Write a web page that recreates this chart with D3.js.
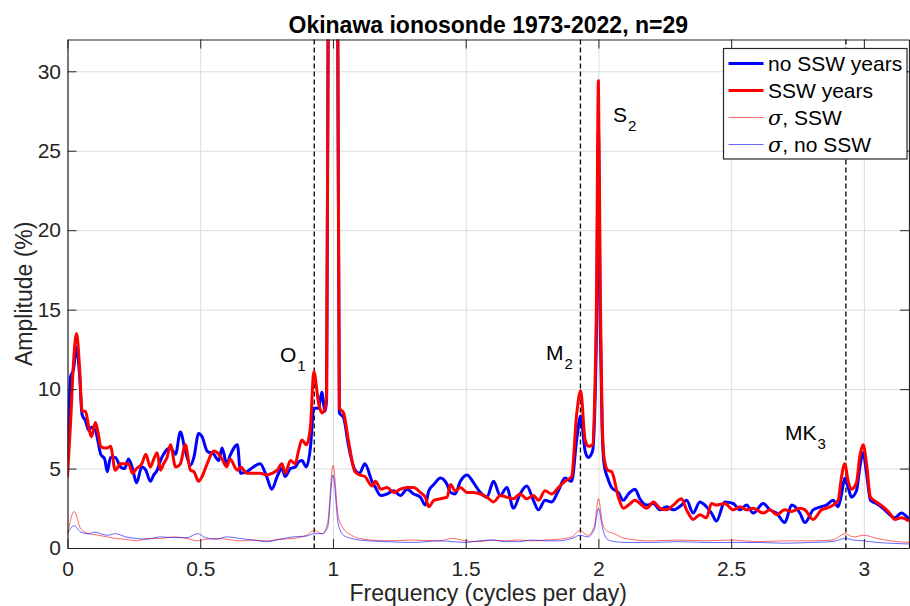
<!DOCTYPE html>
<meta charset="utf-8">
<style>
body { margin: 0; background: #fff; }
svg text { font-family: "Liberation Sans", Arial, Helvetica, sans-serif; fill: #262626; }
</style>
<script src="https://d3js.org/d3.v7.min.js"></script>
<div id="chart"></div>
<script>

// frequency grid (cycles per day) for the mean amplitude spectra
var freq = [0.000,0.012,0.022,0.034,0.045,0.055,0.068,0.080,0.090,0.105,0.115,0.125,0.140,0.150,0.162,0.180,0.200,0.215,0.230,0.245,
  0.260,0.280,0.295,0.312,0.325,0.338,0.350,0.362,0.375,0.388,0.407,0.425,0.444,0.463,0.476,0.494,0.507,0.526,0.551,0.570,
  0.582,0.600,0.612,0.640,0.652,0.676,0.700,0.726,0.750,0.770,0.790,0.808,0.820,0.840,0.858,0.870,0.883,0.900,0.915,0.928,
  0.946,0.958,0.970,0.976,0.983,1.000,1.017,1.024,1.040,1.058,1.083,1.100,1.120,1.147,1.160,1.180,1.204,1.229,1.254,1.279,
  1.304,1.329,1.348,1.361,1.380,1.405,1.430,1.443,1.460,1.480,1.505,1.530,1.555,1.580,1.605,1.630,1.655,1.680,1.705,1.730,
  1.755,1.774,1.799,1.824,1.849,1.874,1.899,1.918,1.933,1.950,1.962,1.978,1.986,1.993,2.000,2.007,2.014,2.022,2.035,2.050,
  2.075,2.094,2.113,2.138,2.156,2.182,2.207,2.232,2.257,2.282,2.313,2.332,2.357,2.382,2.407,2.426,2.445,2.476,2.508,2.533,
  2.558,2.583,2.621,2.646,2.671,2.702,2.728,2.759,2.778,2.809,2.840,2.859,2.884,2.903,2.916,2.928,2.941,2.953,2.972,2.985,
  2.997,3.010,3.025,3.047,3.072,3.097,3.116,3.141,3.170];

var ampNoSSW = [5.7,10.8,11.2,12.6,11.0,8.4,8.0,7.4,7.6,7.4,6.7,5.9,5.6,4.8,5.7,5.7,5.1,5.0,5.6,5.0,
  4.1,5.1,4.9,4.2,4.6,4.9,5.5,5.9,6.2,6.3,5.9,7.3,6.1,5.2,5.7,7.2,7.0,6.1,5.9,5.5,
  6.3,5.3,5.8,6.5,4.7,4.8,5.1,5.3,4.5,3.7,4.5,5.0,4.5,5.0,5.1,5.4,5.5,5.1,6.3,8.8,
  8.8,9.8,8.6,9.3,38,90,38,8.5,8.2,6.5,4.9,4.7,5.3,4.2,3.8,3.3,3.4,3.6,3.3,3.7,
  3.4,3.2,2.7,3.6,4.0,4.4,4.0,3.5,3.4,4.2,4.6,4.1,3.5,3.2,4.2,3.3,3.8,2.5,3.4,3.9,
  3.0,2.4,3.0,2.9,3.6,4.4,4.2,6.8,8.3,6.1,5.7,6.1,8.5,14.0,26.2,14.0,7.5,5.2,4.4,3.8,
  3.5,3.0,3.4,3.7,3.1,2.7,2.8,2.4,2.6,2.4,2.7,3.0,2.2,2.9,2.6,2.2,1.7,2.9,2.8,2.4,
  2.7,2.2,2.8,2.4,2.2,1.6,2.7,2.2,1.6,2.4,2.6,2.7,3.0,2.6,3.4,4.4,3.8,3.2,3.6,5.1,
  6.0,4.7,3.0,2.8,2.5,2.1,1.9,2.2,1.8];

var ampSSW = [4.45,8.0,11.5,13.5,11.5,8.6,8.6,7.6,7.0,7.9,7.3,6.4,6.3,6.3,6.4,4.9,5.3,5.3,5.3,4.7,
  5.0,5.3,5.9,5.1,5.6,6.0,4.9,5.3,5.7,6.5,5.1,5.3,6.5,4.9,4.8,4.2,4.5,5.3,6.1,5.9,
  5.6,5.1,5.6,4.9,5.1,4.7,4.7,4.7,4.6,4.7,4.9,5.3,4.7,5.5,5.3,6.1,6.8,6.5,7.6,11.1,
  9.1,8.5,8.8,9.6,40,95,40,8.8,8.5,6.8,4.8,4.6,4.5,3.9,4.2,3.7,3.8,3.5,3.7,3.8,
  3.8,3.5,3.2,2.6,3.0,3.1,3.2,4.0,3.6,3.8,3.5,3.5,3.4,3.2,2.9,3.3,3.2,3.1,3.4,3.1,
  3.3,3.0,3.6,3.4,3.8,4.2,4.5,8.4,9.9,6.8,6.4,6.5,9.5,16.0,29.4,16.0,8.0,5.6,4.9,4.8,
  3.2,2.5,2.7,3.0,2.8,2.5,2.9,2.5,2.4,2.7,3.1,2.4,1.8,2.1,1.9,2.8,2.7,2.8,2.4,2.6,
  2.4,2.5,2.2,2.4,2.1,2.4,2.3,2.5,2.4,1.8,2.4,2.5,2.7,3.0,4.5,5.3,4.2,3.7,4.1,5.8,
  6.5,5.3,3.2,2.9,2.6,2.2,1.8,1.9,1.7];

// frequency grid for the standard deviation curves
var sigFreq = [0.00,0.025,0.05,0.08,0.10,0.15,0.18,0.22,0.26,0.30,0.35,0.40,0.45,0.49,0.52,0.56,0.60,0.65,0.70,0.75,
  0.80,0.85,0.90,0.93,0.96,0.98,1.00,1.02,1.04,1.07,1.10,1.20,1.30,1.40,1.45,1.50,1.55,1.60,1.65,1.70,
  1.75,1.80,1.85,1.90,1.93,1.96,1.985,2.00,2.015,2.03,2.06,2.10,2.20,2.30,2.40,2.50,2.60,2.70,2.80,2.88,
  2.93,2.96,3.00,3.05,3.10,3.17];

var sigSSW = [0.8,2.3,1.2,0.9,0.85,0.7,0.6,0.55,0.45,0.6,0.6,0.7,0.6,0.45,0.55,0.6,0.55,0.45,0.5,0.45,
  0.55,0.6,0.8,1.1,0.9,1.6,5.2,2.0,1.2,0.8,0.6,0.45,0.5,0.45,0.6,0.45,0.4,0.5,0.45,0.5,
  0.45,0.5,0.55,0.7,1.1,0.8,1.4,3.1,1.6,1.1,0.9,0.6,0.45,0.5,0.45,0.5,0.4,0.45,0.45,0.5,
  0.9,0.7,0.8,0.6,0.45,0.35];

var sigNoSSW = [0.9,1.4,1.0,0.9,1.0,0.8,0.9,0.7,0.6,0.55,0.7,0.65,0.65,0.9,0.65,0.55,0.7,0.6,0.5,0.4,
  0.55,0.7,0.75,0.9,0.9,1.3,4.6,1.5,0.8,0.6,0.5,0.4,0.35,0.45,0.4,0.35,0.45,0.5,0.4,0.4,
  0.5,0.45,0.45,0.6,0.8,0.7,1.2,2.5,1.3,0.6,0.4,0.35,0.35,0.4,0.35,0.35,0.35,0.3,0.35,0.4,
  0.6,0.5,0.45,0.35,0.3,0.25];

var xTicks = [0, 0.5, 1, 1.5, 2, 2.5, 3];
var yTicks = [0, 5, 10, 15, 20, 25, 30];

// tidal constituents marked with dashed lines
var tideNames = ["O", "M", "MK"];
var tideSubs = ["1", "2", "3"];
var tideFreq = [0.9295, 1.9323, 2.9323];

var margin = {top: 39.5, right: 1, bottom: 58, left: 67.5},
    width = 910 - margin.left - margin.right,
    height = 606 - margin.top - margin.bottom;

var svg = d3.select("#chart")
  .append("svg")
    .attr("width", 910)
    .attr("height", 606)
  .append("g")
    .attr("transform", "translate(" + margin.left + "," + margin.top + ")");

var x = d3.scaleLinear().domain([0, 3.17]).range([0, width]);
var y = d3.scaleLinear().domain([0, 32]).range([height, 0]);

svg.append("defs").append("clipPath").attr("id", "clip")
  .append("rect").attr("width", width).attr("height", height);

// grid
svg.append("g")
  .attr("transform", "translate(0," + height + ")")
  .call(d3.axisBottom(x).tickValues(xTicks).tickSize(-height).tickFormat(""))
  .call(function(g) { g.select(".domain").remove(); g.selectAll("line").attr("stroke", "#dcdcdc"); });
svg.append("g")
  .call(d3.axisLeft(y).tickValues(yTicks).tickSize(-width).tickFormat(""))
  .call(function(g) { g.select(".domain").remove(); g.selectAll("line").attr("stroke", "#dcdcdc"); });

// dashed tide lines
svg.selectAll(".tide")
  .data(tideFreq)
  .enter()
  .append("line")
    .attr("x1", function(d) { return x(d); })
    .attr("x2", function(d) { return x(d); })
    .attr("y1", 0)
    .attr("y2", height)
    .attr("stroke", "#000")
    .attr("stroke-width", 1.3)
    .attr("stroke-dasharray", "5,3");

var plot = svg.append("g").attr("clip-path", "url(#clip)");

function drawLine(fs, vals, color, w) {
  var line = d3.line()
    .curve(d3.curveMonotoneX)
    .x(function(d, i) { return x(fs[i]); })
    .y(function(d) { return y(d); });
  plot.append("path")
    .datum(vals)
    .attr("fill", "none")
    .attr("stroke", color)
    .attr("stroke-width", w)
    .attr("stroke-linejoin", "round")
    .attr("d", line);
}

drawLine(freq, ampNoSSW, "#0000ff", 3);
drawLine(freq, ampSSW, "#ff0000", 3);
drawLine(sigFreq, sigSSW, "#ff0000", 0.6);
drawLine(sigFreq, sigNoSSW, "#0000ff", 0.6);

// axes
var fmt = function(d) { return String(d); };
svg.append("g")
  .attr("transform", "translate(0," + height + ")")
  .call(d3.axisBottom(x).tickValues(xTicks).tickSizeInner(-9).tickSizeOuter(0).tickPadding(13).tickFormat(fmt));
svg.append("g")
  .call(d3.axisTop(x).tickValues(xTicks).tickSizeInner(-9).tickSizeOuter(0).tickFormat(""));
svg.append("g")
  .call(d3.axisLeft(y).tickValues(yTicks).tickSizeInner(-9).tickSizeOuter(0).tickPadding(6.5).tickFormat(fmt));
svg.append("g")
  .attr("transform", "translate(" + width + ",0)")
  .call(d3.axisRight(y).tickValues(yTicks).tickSizeInner(-9).tickSizeOuter(0).tickFormat(""));

svg.selectAll(".domain").attr("stroke", "#262626").attr("stroke-width", 1.2);
svg.selectAll(".tick line").filter(function() { return this.getAttribute("stroke") !== "#dcdcdc"; })
  .attr("stroke", "#262626");
svg.selectAll(".tick text").style("font-size", "21px").attr("fill", "#262626");

// labels
svg.append("text")
  .attr("x", width / 2)
  .attr("y", -6.5)
  .attr("text-anchor", "middle")
  .style("font-size", "23px")
  .style("font-weight", "bold")
  .style("fill", "#000")
  .text("Okinawa ionosonde 1973-2022, n=29");

svg.append("text")
  .attr("x", width / 2)
  .attr("y", height + 53)
  .attr("text-anchor", "middle")
  .style("font-size", "23px")
  .text("Frequency (cycles per day)");

svg.append("text")
  .attr("transform", "translate(" + (-35.5) + "," + (height / 2) + ") rotate(-90)")
  .attr("text-anchor", "middle")
  .style("font-size", "23px")
  .text("Amplitude (%)");

// peak annotations
function label(px, py, name, sub) {
  var t = svg.append("text")
    .attr("x", px - margin.left)
    .attr("y", py - margin.top)
    .style("font-size", "21px")
    .style("fill", "#000");
  t.append("tspan").text(name);
  t.append("tspan").attr("dy", 9).attr("dx", 1).style("font-size", "15px").text(sub);
}
label(280, 362, tideNames[0], tideSubs[0]);
label(546, 360, tideNames[1], tideSubs[1]);
label(613, 122, "S", "2");
label(785, 440, tideNames[2], tideSubs[2]);

// legend
var legNames = ["no SSW years", "SSW years", "\u03c3, SSW", "\u03c3, no SSW"];
var legColors = ["#0000ff", "#ff0000", "#ff0000", "#0000ff"];
var legWidths = [3, 3, 0.6, 0.6];

var leg = svg.append("g").attr("transform", "translate(" + (723.5 - margin.left) + "," + (48.5 - margin.top) + ")");
leg.append("rect")
  .attr("width", 183.5)
  .attr("height", 110.5)
  .attr("fill", "#fff")
  .attr("stroke", "#262626")
  .attr("stroke-width", 1.2);

leg.selectAll("legline")
  .data(legNames)
  .enter()
  .append("line")
    .attr("x1", 5)
    .attr("x2", 40)
    .attr("y1", function(d, i) { return 15 + i * 27; })
    .attr("y2", function(d, i) { return 15 + i * 27; })
    .attr("stroke", function(d, i) { return legColors[i]; })
    .attr("stroke-width", function(d, i) { return legWidths[i]; });

leg.selectAll("legtext")
  .data(legNames)
  .enter()
  .append("text")
    .attr("x", 44.5)
    .attr("y", function(d, i) { return 22.5 + i * 27; })
    .style("font-size", "21px")
    .style("fill", "#000")
    .each(function(d) {
      var el = d3.select(this);
      if (d.charAt(0) === "\u03c3") {
        el.append("tspan").style("font-style", "italic").style("font-family", "'DejaVu Serif', serif").text("\u03c3");
        el.append("tspan").text(d.slice(1));
      } else {
        el.text(d);
      }
    });

</script>
